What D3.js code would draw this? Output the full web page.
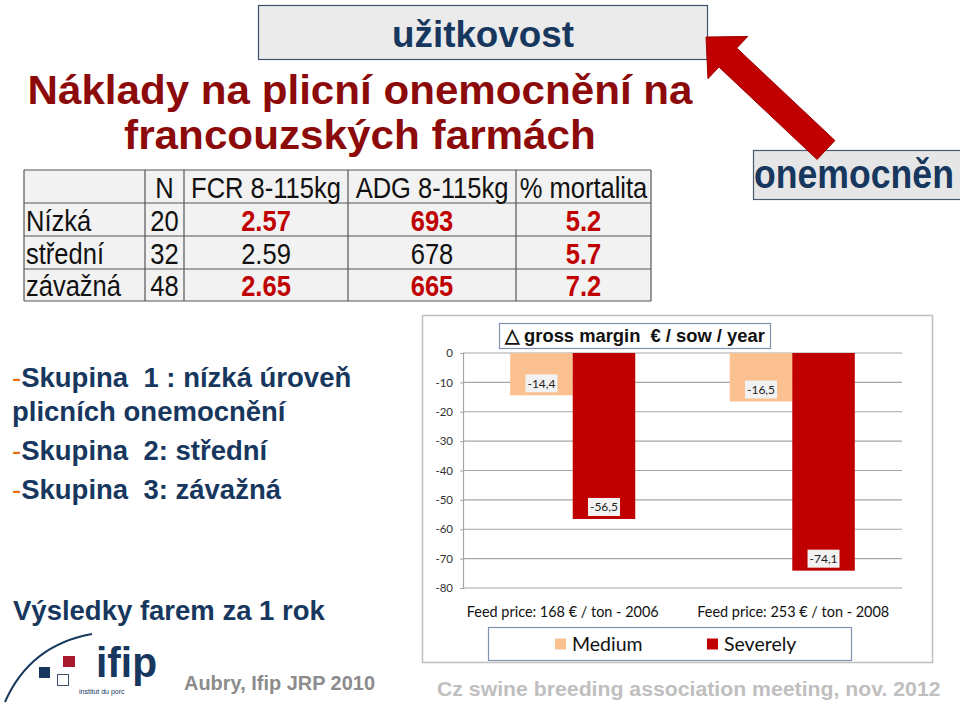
<!DOCTYPE html>
<html>
<head>
<meta charset="utf-8">
<script src="https://cdn.jsdelivr.net/npm/d3@7"></script>
<style>
  html, body { margin: 0; padding: 0; background: #fff; }
  svg { display: block; }
  text { white-space: pre; }
</style>
</head>
<body>
<svg id="slide" width="960" height="708"></svg>
<script>
// ---------- DATA ----------
const groups = ["Feed price: 168 € / ton - 2006", "Feed price: 253 € / ton - 2008"];
const seriesNames = ["Medium", "Severely"];
const mediumValues = [-14.4, -16.5];
const severelyValues = [-56.5, -74.1];
const yTicks = [0, -10, -20, -30, -40, -50, -60, -70, -80];
const chartTitle = "△ gross margin  € / sow / year";

const tableHeader = ["", "N", "FCR 8-115kg", "ADG 8-115kg", "% mortalita"];
const rowLabels = ["Nízká", "střední", "závažná"];
const nValues = ["20", "32", "48"];
const fcrValues = ["2.57", "2.59", "2.65"];
const adgValues = ["693", "678", "665"];
const mortalityValues = ["5.2", "5.7", "7.2"];
const highlighted = [[true, true, true], [false, false, true], [true, true, true]];

const titleLines = ["Náklady na plicní onemocnění na", "francouzských farmách"];
const groupLines = [
  {dash: "-", text: "Skupina  1 : nízká úroveň"},
  {dash: "", text: "plicních onemocnění"},
  {dash: "-", text: "Skupina  2: střední"},
  {dash: "-", text: "Skupina  3: závažná"}
];

// ---------- STYLE ----------
const NAVY = "#17375E";
const TITLE_RED = "#8C0A0A";
const RED = "#C00000";
const PEACH = "#FAC090";
const SANS = "'Liberation Sans', Arial, sans-serif";
const CAL = "Lato, 'Open Sans', sans-serif";

const svg = d3.select("#slide");

// condensed text helper: scales horizontally (sx) around the anchor point
function condText(parent, x, y, str, opts) {
  const g = parent.append("g").attr("transform", `translate(${x},${y})`);
  const t = g.append("text").attr("x", 0).attr("y", 0)
    .attr("text-anchor", opts.anchor || "start")
    .attr("font-family", opts.family || SANS)
    .attr("font-size", opts.size)
    .attr("font-weight", opts.weight || "normal")
    .attr("fill", opts.fill || "#111")
    .text(str);
  let sx = opts.sx || 1;
  if (opts.width) sx = opts.width / t.node().getComputedTextLength();
  t.attr("transform", `scale(${sx},1)`);
  return t;
}

// ---------- top boxes & arrow ----------
svg.append("rect").attr("x", 258.5).attr("y", 5.5).attr("width", 449).attr("height", 54)
  .attr("fill", "#EBEBEB").attr("stroke", "#3E5270").attr("stroke-width", 1.2);
condText(svg, 483, 47, "užitkovost", {anchor: "middle", size: 37, weight: "bold", fill: NAVY, width: 182});

svg.append("rect").attr("x", 753.5).attr("y", 150.5).attr("width", 210).attr("height", 49)
  .attr("fill", "#E6E6E6").attr("stroke", "#4A5A74").attr("stroke-width", 1.2);
condText(svg, 754, 188, "onemocněn", {size: 40, weight: "bold", fill: NAVY, width: 200});

// arrow
(function () {
  const tip = [706, 37], tail = [826, 150];
  const dx = tip[0] - tail[0], dy = tip[1] - tail[1];
  const L = Math.hypot(dx, dy), ux = dx / L, uy = dy / L, px = -uy, py = ux;
  const headLen = 30, headW = 58, shaftW = 26;
  const bx = tip[0] - ux * headLen, by = tip[1] - uy * headLen;
  const pts = [
    tip,
    [bx + px * headW / 2, by + py * headW / 2],
    [bx + px * shaftW / 2, by + py * shaftW / 2],
    [tail[0] + px * shaftW / 2, tail[1] + py * shaftW / 2],
    [tail[0] - px * shaftW / 2, tail[1] - py * shaftW / 2],
    [bx - px * shaftW / 2, by - py * shaftW / 2],
    [bx - px * headW / 2, by - py * headW / 2]
  ];
  svg.append("polygon").attr("points", pts.map(p => p.join(",")).join(" "))
    .attr("fill", RED).attr("stroke", "#A00000").attr("stroke-width", 1);
})();

// ---------- title ----------
titleLines.forEach((line, i) => {
  condText(svg, 360, 104 + i * 45, line, {anchor: "middle", size: 40, weight: "bold", fill: TITLE_RED,
    width: i === 0 ? 665 : 472});
});

// ---------- table ----------
const colX = [24, 145, 184, 348, 516, 651];
const rowY = [170, 203, 236, 269, 301];
const TSX = 0.88, TFS = 29;
const tbl = svg.append("g");
tbl.append("rect").attr("x", colX[0]).attr("y", rowY[0]).attr("width", colX[5] - colX[0])
  .attr("height", rowY[4] - rowY[0]).attr("fill", "#F2F2F2");
rowY.forEach(y => tbl.append("line").attr("x1", colX[0]).attr("x2", colX[5]).attr("y1", y).attr("y2", y)
  .attr("stroke", "#555").attr("stroke-width", 1.2));
colX.forEach(x => tbl.append("line").attr("x1", x).attr("x2", x).attr("y1", rowY[0]).attr("y2", rowY[4])
  .attr("stroke", "#555").attr("stroke-width", 1.2));
tableHeader.forEach((h, c) => {
  if (!h) return;
  condText(tbl, (colX[c] + colX[c + 1]) / 2, rowY[1] - 5, h, {anchor: "middle", size: TFS, sx: TSX});
});
rowLabels.forEach((r, i) => {
  const yy = rowY[i + 2] - 5;
  condText(tbl, colX[0] + 2, yy, r, {size: TFS, sx: TSX});
  condText(tbl, (colX[1] + colX[2]) / 2, yy, nValues[i], {anchor: "middle", size: TFS, sx: TSX});
  [fcrValues[i], adgValues[i], mortalityValues[i]].forEach((v, j) => {
    const hl = highlighted[i][j];
    condText(tbl, (colX[j + 2] + colX[j + 3]) / 2, yy, v, {anchor: "middle", size: TFS, sx: TSX,
      weight: hl ? "bold" : "normal", fill: hl ? RED : "#111"});
  });
});

// ---------- left text ----------
const lineY = [387, 421, 460, 499];
groupLines.forEach((g, i) => {
  const t = svg.append("text").attr("x", 12).attr("y", lineY[i]).attr("font-family", SANS)
    .attr("font-size", 27.5).attr("font-weight", "bold").attr("fill", NAVY);
  if (g.dash) t.append("tspan").attr("fill", "#E46C0A").attr("font-weight", "normal").text(g.dash);
  t.append("tspan").text(g.text);
});
svg.append("text").attr("x", 13).attr("y", 620).attr("font-family", SANS).attr("font-size", 27.5)
  .attr("font-weight", "bold").attr("fill", NAVY).text("Výsledky farem za 1 rok");

// ---------- logo ----------
svg.append("path").attr("d", "M5,702 Q30,645 92,634").attr("fill", "none").attr("stroke", NAVY).attr("stroke-width", 2);
svg.append("rect").attr("x", 39).attr("y", 667).attr("width", 11).attr("height", 11).attr("fill", NAVY);
svg.append("rect").attr("x", 63).attr("y", 656).attr("width", 12).attr("height", 11).attr("fill", "#A6192E");
svg.append("rect").attr("x", 57.5).attr("y", 674.5).attr("width", 11).attr("height", 11).attr("fill", "#fff").attr("stroke", "#3E5270");
condText(svg, 96, 677, "ifip", {size: 43, weight: "bold", fill: NAVY, width: 61});
svg.append("text").attr("x", 79).attr("y", 694).attr("font-family", SANS).attr("font-size", 7)
  .attr("fill", NAVY).text("institut du porc");
condText(svg, 184, 690, "Aubry, Ifip JRP 2010", {size: 20, weight: "bold", fill: "#8C8C8C", width: 191});
condText(svg, 437, 696, "Cz swine breeding association meeting, nov. 2012", {size: 21, weight: "bold", fill: "#BFBFBF", width: 504});

// ---------- chart ----------
const ch = svg.append("g");
ch.append("rect").attr("x", 422.5).attr("y", 315.5).attr("width", 510).attr("height", 347)
  .attr("fill", "#fff").attr("stroke", "#BFBFBF").attr("stroke-width", 1.5);

const plot = {left: 463, right: 902, top: 353, bottom: 588};
const y = d3.scaleLinear().domain([-80, 0]).range([plot.bottom, plot.top]);
const x0 = d3.scaleBand().domain(groups).range([plot.left, plot.right]).paddingInner(0.4305).paddingOuter(0.215);
const x1 = d3.scaleBand().domain(seriesNames).range([0, x0.bandwidth()]);
const color = d3.scaleOrdinal().domain(seriesNames).range([PEACH, RED]);

// gridlines
ch.append("g").selectAll("line").data(yTicks).join("line")
  .attr("x1", plot.left).attr("x2", plot.right).attr("y1", d => y(d)).attr("y2", d => y(d))
  .attr("stroke", "#A6A6A6").attr("stroke-width", 1.2);

// axis
const yAxis = ch.append("g").attr("transform", `translate(${plot.left},0)`)
  .call(d3.axisLeft(y).tickValues(yTicks).tickSize(3).tickPadding(7).tickFormat(d => String(d)));
yAxis.select(".domain").attr("stroke", "#A6A6A6").attr("stroke-width", 1.2);
yAxis.selectAll(".tick line").attr("stroke", "#A6A6A6");
yAxis.selectAll(".tick text").attr("font-family", CAL).attr("font-size", 11.5).attr("fill", "#333");

// bars
const barData = [];
groups.forEach((g, i) => {
  barData.push({group: g, series: seriesNames[0], value: mediumValues[i]});
  barData.push({group: g, series: seriesNames[1], value: severelyValues[i]});
});
ch.append("g").selectAll("rect").data(barData).join("rect")
  .attr("x", d => x0(d.group) + x1(d.series)).attr("width", x1.bandwidth())
  .attr("y", y(0)).attr("height", d => y(d.value) - y(0)).attr("fill", d => color(d.series));

// value labels
const fmt = v => v.toFixed(1).replace(".", ",");
const lab = ch.append("g").selectAll("g").data(barData).join("g")
  .attr("transform", d => `translate(${x0(d.group) + x1(d.series) + x1.bandwidth() / 2},${y(d.value) - 12})`);
lab.append("rect").attr("x", -16).attr("y", -9).attr("width", 32).attr("height", 18).attr("fill", "#F2F2F2");
lab.append("text").attr("text-anchor", "middle").attr("dy", "0.35em").attr("font-family", CAL)
  .attr("font-size", 12).attr("fill", "#222").text(d => fmt(d.value));

// chart title
ch.append("rect").attr("x", 499.5).attr("y", 323.5).attr("width", 271).attr("height", 25)
  .attr("fill", "#fff").attr("stroke", "#7F93B0").attr("stroke-width", 1.2);
condText(ch, 505, 342, chartTitle, {size: 18.5, weight: "bold", fill: "#111", width: 261});

// category labels
ch.append("g").selectAll("text").data(groups).join("text")
  .attr("x", (d, i) => x0(d) + x0.bandwidth() / 2 + (i === 0 ? -10 : 1)).attr("y", 617)
  .attr("text-anchor", "middle").attr("font-family", CAL).attr("font-size", 16).attr("fill", "#111")
  .attr("textLength", 192).attr("lengthAdjust", "spacingAndGlyphs").text(d => d);

// legend
ch.append("rect").attr("x", 488.5).attr("y", 627.5).attr("width", 363).attr("height", 33)
  .attr("fill", "#fff").attr("stroke", "#7F93B0").attr("stroke-width", 1.2);
const legX = [555, 707];
const leg = ch.append("g").selectAll("g").data(seriesNames).join("g")
  .attr("transform", (d, i) => `translate(${legX[i]},644)`);
leg.append("rect").attr("x", 0).attr("y", -5.5).attr("width", 11).attr("height", 11).attr("fill", d => color(d));
leg.append("text").attr("x", 17).attr("dy", "0.35em").attr("font-family", CAL).attr("font-size", 19.5)
  .attr("fill", "#111").text(d => d);
</script>
</body>
</html>
